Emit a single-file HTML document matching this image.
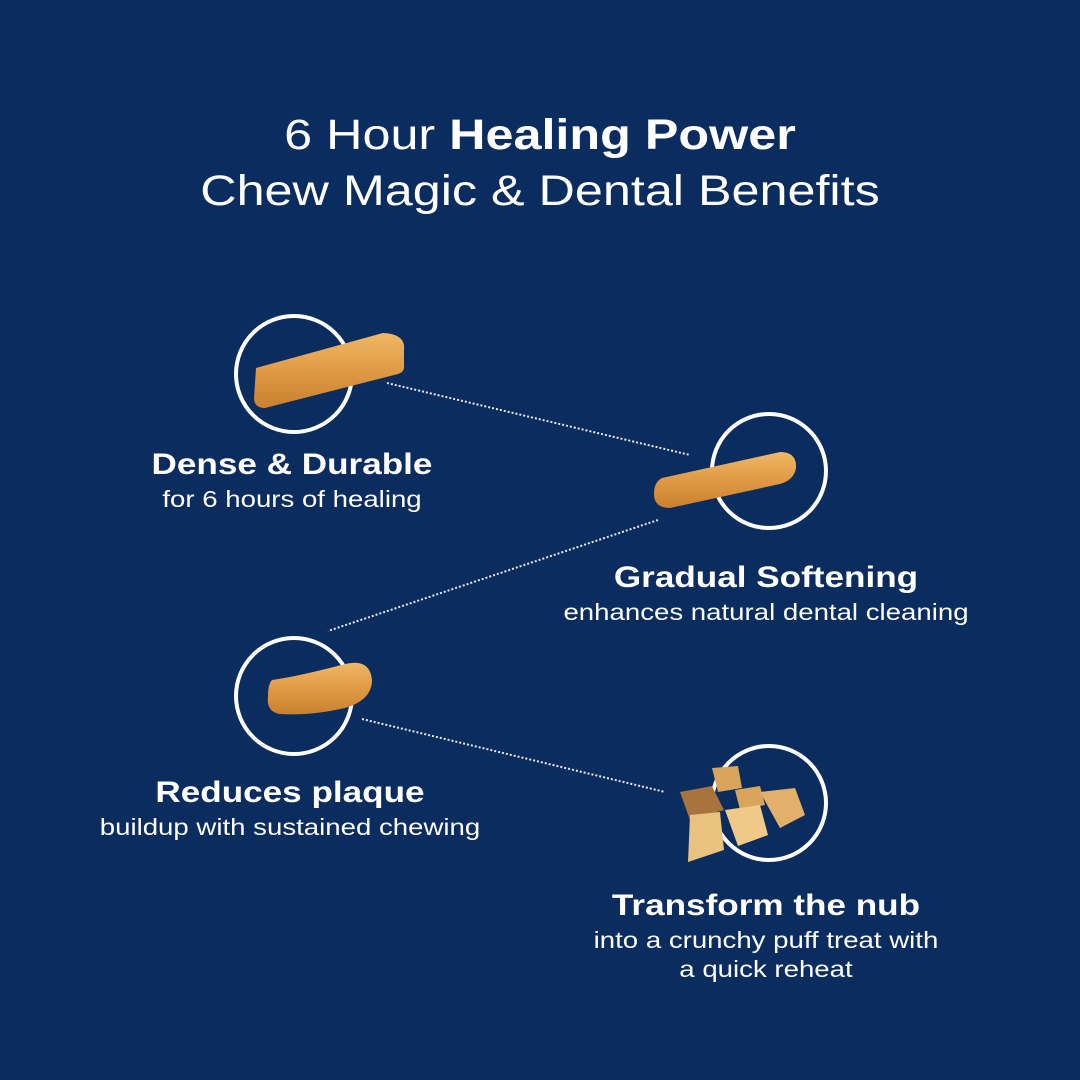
<!DOCTYPE html>
<html><head><style>
body{margin:0;width:1080px;height:1080px;background:#0b2c5f;position:relative;overflow:hidden;font-family:"Liberation Sans",sans-serif;color:#fff}
.t{position:absolute;left:0;width:1080px;text-align:center;font-size:43px;line-height:1;transform:scaleX(1.17)}
.l{position:absolute;text-align:center;line-height:1}
.l b{display:block;font-size:30px;font-weight:bold;transform:scaleX(1.17)}
.l span{display:block;font-size:23px;margin-top:5px;line-height:29px;transform:scaleX(1.2)}
</style></head><body>
<div class="t" style="top:114px">6 Hour <b>Healing Power</b></div>
<div class="t" style="top:170px">Chew Magic &amp; Dental Benefits</div>
<svg width="1080" height="1080" style="position:absolute;left:0;top:0">
<defs><linearGradient id="g" x1="0" y1="0" x2="0" y2="1"><stop offset="0" stop-color="#f0b865"/><stop offset="0.5" stop-color="#e09a45"/><stop offset="1" stop-color="#c9802f"/></linearGradient></defs>
<g fill="none" stroke="#fff" stroke-width="4">
<circle cx="294" cy="374" r="58"/><circle cx="769" cy="471" r="57"/>
<circle cx="294" cy="696" r="58"/><circle cx="769" cy="803" r="57"/>
</g>
<g stroke="#fff" stroke-width="2" stroke-dasharray="2 2" opacity="0.9">
<line x1="387" y1="383" x2="690" y2="455"/><line x1="658" y1="520" x2="328" y2="631"/><line x1="362" y1="719" x2="665" y2="792"/>
</g>
<path d="M256 368 L383 333 Q406 334 404 350 L404 365 Q405 372 398 374 L265 408 Q254 408 254 398 Z" fill="url(#g)"/>
<path d="M662 478 L780 452 Q797 452 796 468 Q794 480 780 484 L670 508 Q654 508 654 494 Q654 482 662 478 Z" fill="url(#g)"/>
<path d="M272 680 Q300 676 345 664 Q370 658 372 680 Q372 700 345 708 Q310 716 280 714 Q266 712 268 696 Q268 684 272 680 Z" fill="url(#g)"/>
<g fill="#d9a55c"><path d="M712 768 L738 766 L742 788 L718 792 Z"/><path d="M680 792 L712 786 L724 810 L690 820 Z" fill="#a9733e"/><path d="M735 790 L760 786 L765 805 L740 810 Z"/><path d="M760 792 L795 788 L805 815 L780 828 Z" fill="#e2b06a"/><path d="M725 810 L760 805 L768 835 L738 846 Z" fill="#f0c888"/><path d="M690 815 L720 812 L724 850 L688 862 Z" fill="#eac280"/></g>
</svg>
<div class="l" style="left:92px;width:400px;top:450px"><b>Dense &amp; Durable</b><span>for 6 hours of healing</span></div>
<div class="l" style="left:540px;width:452px;top:563px"><b>Gradual Softening</b><span>enhances natural dental cleaning</span></div>
<div class="l" style="left:60px;width:460px;top:778px"><b>Reduces plaque</b><span>buildup with sustained chewing</span></div>
<div class="l" style="left:540px;width:452px;top:891px"><b>Transform the nub</b><span>into a crunchy puff treat with<br>a quick reheat</span></div>
</body></html>
